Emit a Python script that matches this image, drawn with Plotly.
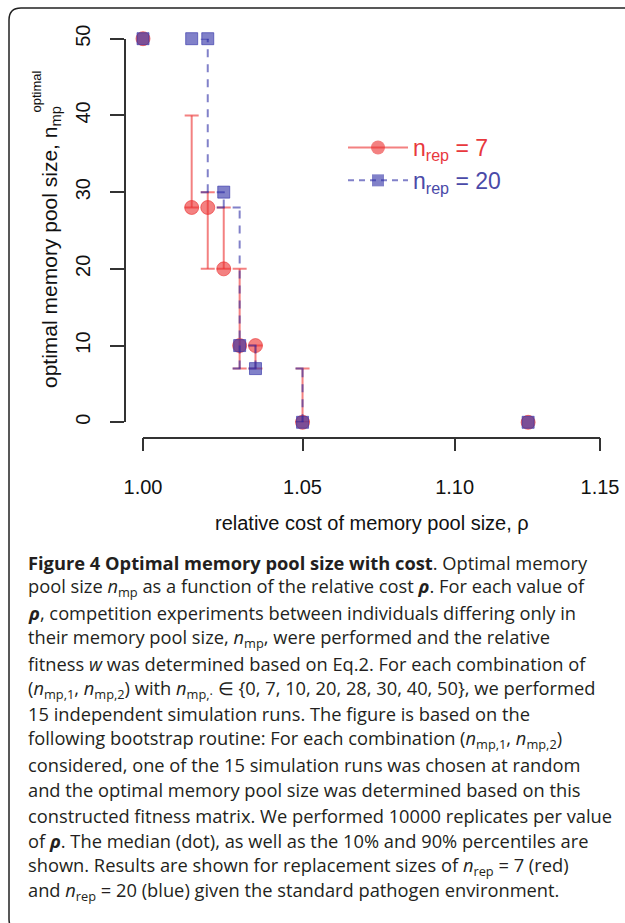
import numpy as np
import plotly.graph_objects as go

# ---------------- data ----------------
rho = [1.0, 1.015, 1.02, 1.025, 1.03, 1.035, 1.05, 1.125]
red_med = [50, 28, 28, 20, 10, 10, 0, 0]
red_lo = [50, 28, 20, 20, 7, 7, 0, 0]
red_hi = [50, 40, 30, 28, 20, 10, 7, 0]
blue_med = [50, 50, 50, 30, 10, 7, 0, 0]
blue_lo = [50, 50, 30, 28, 7, 7, 0, 0]
blue_hi = [50, 50, 50, 30, 28, 10, 7, 0]
xticks = [1.00, 1.05, 1.10, 1.15]
xtick_text = ["1.00", "1.05", "1.10", "1.15"]
yticks = [0, 10, 20, 30, 40, 50]

W, H = 625, 923
RED = "rgba(235,45,45,0.6)"
BLUE = "rgba(45,45,165,0.6)"
AXC = "#333333"
FONT = "Liberation Sans"


def px(x):
    return x / W


def py(y):
    return 1 - y / H


# plot geometry (pixels)
X0, X1 = 143, 600       # 1.00 .. 1.15
YT, YB = 38.7, 422.3    # 50 .. 0
XAX_Y = 437.7
YAX_X = 125

CAP = 10 ** (7.0 / ((X1 - X0) / np.log10(1.15)))  # half cap width factor on log axis


def bar_segments(x, lo, hi):
    xs, ys = [], []
    for xi, l, h in zip(x, lo, hi):
        if h <= l:
            continue
        xs += [xi, xi, None, xi / CAP, xi * CAP, None, xi / CAP, xi * CAP, None]
        ys += [l, h, None, h, h, None, l, l, None]
    return xs, ys


fig = go.Figure()

rx, ry = bar_segments(rho, red_lo, red_hi)
fig.add_trace(go.Scatter(x=rx, y=ry, mode="lines", line=dict(color=RED, width=2),
                         showlegend=False, hoverinfo="skip"))
fig.add_trace(go.Scatter(x=rho, y=red_med, mode="markers", cliponaxis=False,
                         marker=dict(symbol="circle", size=14, color=RED,
                                     line=dict(color=RED, width=1)),
                         showlegend=False))
bx, by = bar_segments(rho, blue_lo, blue_hi)
fig.add_trace(go.Scatter(x=bx, y=by, mode="lines",
                         line=dict(color=BLUE, width=2, dash="8px,7px"),
                         showlegend=False, hoverinfo="skip"))
fig.add_trace(go.Scatter(x=rho, y=blue_med, mode="markers", cliponaxis=False,
                         marker=dict(symbol="square", size=12, color=BLUE,
                                     line=dict(color=BLUE, width=1)),
                         showlegend=False))

# legend entries
fig.add_trace(go.Scatter(x=[None], y=[None], mode="lines+markers",
                         name="<span style='color:#e8383d'>n<sub>rep</sub> = 7</span>",
                         line=dict(color=RED, width=2),
                         marker=dict(symbol="circle", size=14, color=RED)))
fig.add_trace(go.Scatter(x=[None], y=[None], mode="lines+markers",
                         name="<span style='color:#4a4aa8'>n<sub>rep</sub> = 20</span>",
                         line=dict(color=BLUE, width=2, dash="6px,5px"),
                         marker=dict(symbol="square", size=12, color=BLUE)))

fig.update_layout(
    width=W, height=H,
    margin=dict(l=0, r=0, t=0, b=0, autoexpand=False),
    paper_bgcolor="white", plot_bgcolor="white",
    font=dict(family=FONT, size=20, color="#111111"),
    showlegend=True,
    legend=dict(x=px(343), y=py(126), xanchor="left", yanchor="top",
                bgcolor="rgba(0,0,0,0)", font=dict(size=23, family=FONT),
                itemwidth=60, tracegroupgap=0),
    xaxis=dict(type="log", domain=[px(X0), px(X1)],
               range=[0, np.log10(1.15)], automargin=False,
               anchor="free", position=py(XAX_Y),
               showgrid=False, zeroline=False,
               showline=True, linecolor=AXC, linewidth=1.5,
               ticks="outside", ticklen=13, tickwidth=1.5, tickcolor=AXC,
               tickvals=xticks, ticktext=xtick_text,
               ticklabelstandoff=19,
               tickfont=dict(size=20, family=FONT, color="#111111")),
    yaxis=dict(domain=[py(YB), py(YT)], range=[0, 50], automargin=False,
               anchor="free", position=px(YAX_X),
               showgrid=False, zeroline=False,
               showline=True, linecolor=AXC, linewidth=1.5,
               ticks="outside", ticklen=14, tickwidth=1.5, tickcolor=AXC,
               tickvals=yticks, tickangle=-90,
               ticklabelstandoff=12,
               tickfont=dict(size=20, family=FONT, color="#111111")),
)

annotations = [
    dict(text="relative cost of memory pool size, ρ", x=px((X0 + X1) / 2), y=py(523),
         xref="paper", yref="paper", xanchor="center", yanchor="middle",
         showarrow=False, font=dict(size=20, family=FONT, color="#111111")),
    dict(text="optimal memory pool size, n<sub>mp</sub>", x=px(51), y=py(247),
         xref="paper", yref="paper", xanchor="center", yanchor="middle",
         textangle=-90, showarrow=False, font=dict(size=21, family=FONT, color="#111111")),
    dict(text="optimal", x=px(36), y=py(91.5),
         xref="paper", yref="paper", xanchor="center", yanchor="middle",
         textangle=-90, showarrow=False, font=dict(size=13, family=FONT, color="#111111")),
]

caption = [
    "<b>Figure 4 Optimal memory pool size with cost</b>. Optimal memory",
    "pool size <i>n</i><sub>mp</sub> as a function of the relative cost <b><i>ρ</i></b>. For each value of",
    "<b><i>ρ</i></b>, competition experiments between individuals differing only in",
    "their memory pool size, <i>n</i><sub>mp</sub>, were performed and the relative",
    "fitness <i>w</i> was determined based on Eq.2. For each combination of",
    "(<i>n</i><sub>mp,1</sub>, <i>n</i><sub>mp,2</sub>) with <i>n</i><sub>mp,·</sub> ∈ {0, 7, 10, 20, 28, 30, 40, 50}, we performed",
    "15 independent simulation runs. The figure is based on the",
    "following bootstrap routine: For each combination (<i>n</i><sub>mp,1</sub>, <i>n</i><sub>mp,2</sub>)",
    "considered, one of the 15 simulation runs was chosen at random",
    "and the optimal memory pool size was determined based on this",
    "constructed fitness matrix. We performed 10000 replicates per value",
    "of <b><i>ρ</i></b>. The median (dot), as well as the 10% and 90% percentiles are",
    "shown. Results are shown for replacement sizes of <i>n</i><sub>rep</sub> = 7 (red)",
    "and <i>n</i><sub>rep</sub> = 20 (blue) given the standard pathogen environment.",
]
for i, line in enumerate(caption):
    annotations.append(dict(text=line, x=px(26), y=py(562 + 25.3 * i),
                            xref="paper", yref="paper", xanchor="left", yanchor="middle",
                            showarrow=False,
                            font=dict(size=18.3, family="Open Sans", color="#231f20")))
fig.update_layout(annotations=annotations)

# rounded frame
L, T, R, B, r = 9, 8, 640, 931, 12
path = (f"M {px(L)},{py(B - r)} L {px(L)},{py(T + r)} "
        f"Q {px(L)},{py(T)} {px(L + r)},{py(T)} L {px(R)},{py(T)} "
        f"M {px(L)},{py(B - r)} Q {px(L)},{py(B)} {px(L + r)},{py(B)}")
fig.add_shape(type="path", path=path, xref="paper", yref="paper",
              line=dict(color="#222222", width=1.5))

fig.write_html("out.html")
